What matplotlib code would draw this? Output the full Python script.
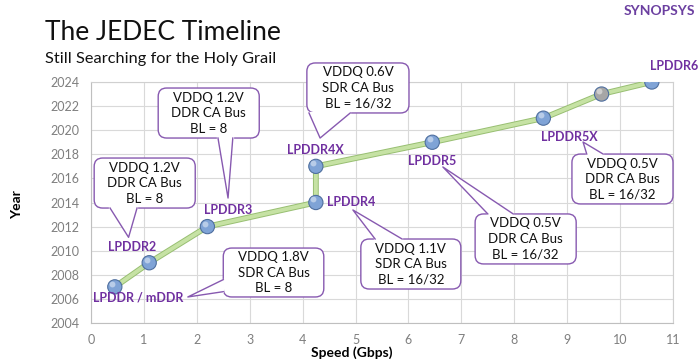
import matplotlib
matplotlib.use("Agg")
import matplotlib.pyplot as plt
from matplotlib.patches import FancyBboxPatch, Polygon

plt.rcParams['font.family'] = ['Lato', 'DejaVu Sans']

# data
names = ["LPDDR / mDDR", "LPDDR2", "LPDDR3", "LPDDR4", "LPDDR4X",
         "LPDDR5", "LPDDR5X", "", "LPDDR6"]
speed = [0.45, 1.1, 2.2, 4.25, 4.25, 6.45, 8.55, 9.65, 10.6]
year = [2007, 2009, 2012, 2014, 2017, 2019, 2021, 2023, 2024]
dot_colors = ["#7fa3d6"] * 7 + ["#a6a6a6", "#7fa3d6"]

xticks = list(range(0, 12))
yticks = list(range(2004, 2025, 2))

callout_text = [
    "VDDQ 1.2V\nDDR CA Bus\nBL = 8",
    "VDDQ 1.2V\nDDR CA Bus\nBL = 8",
    "VDDQ 1.8V\nSDR CA Bus\nBL = 8",
    "VDDQ 0.6V\nSDR CA Bus\nBL = 16/32",
    "VDDQ 1.1V\nSDR CA Bus\nBL = 16/32",
    "VDDQ 0.5V\nDDR CA Bus\nBL = 16/32",
    "VDDQ 0.5V\nDDR CA Bus\nBL = 16/32",
]

# layout of callouts: box (x0, x1, y0, y1), tail base a, b and tip
callout_box = [
    (0.06, 1.97, 2013.54, 2017.69),
    (1.27, 3.18, 2019.35, 2023.50),
    (2.50, 4.40, 2006.16, 2010.22),
    (4.08, 6.01, 2021.43, 2025.58),
    (5.10, 6.99, 2006.82, 2010.97),
    (7.26, 9.17, 2008.90, 2013.05),
    (9.09, 11.0, 2013.88, 2018.02),
]
callout_tail = [
    ((0.36, 2013.54), (0.87, 2013.54), (0.71, 2011.11)),
    ((2.40, 2019.35), (2.68, 2019.35), (2.59, 2014.37)),
    ((2.50, 2007.6), (2.50, 2006.6), (1.83, 2006.16)),
    ((4.12, 2021.43), (4.90, 2021.43), (4.33, 2019.35)),
    ((5.37, 2010.97), (5.88, 2010.97), (4.95, 2013.38)),
    ((7.50, 2013.05), (7.98, 2013.05), (6.65, 2016.95)),
    ((9.37, 2018.02), (9.68, 2018.02), (9.30, 2019.02)),
]

# label offsets (points) relative to each dot
label_off = [(17, -8), (-12, 11), (15, 12), (8, 0), (0, 11.5),
             (0, -13.5), (19, -13.5), (0, 0), (16, 11.5)]
label_ha = ["center", "center", "center", "left", "center",
            "center", "center", "center", "center"]

purple = "#7030a0"
edge_purple = "#8759b0"

fig = plt.figure(figsize=(7, 3.6), dpi=100)
ax_l, ax_b, ax_w, ax_h = 91 / 700, 1 - 323 / 360, 582 / 700, 241 / 360
ax = fig.add_axes([ax_l, ax_b, ax_w, ax_h])
ax.set_xlim(0, 11)
ax.set_ylim(2004, 2024)
ax.set_xticks(xticks)
ax.set_yticks(yticks)
ax.grid(True, color="#d9d9d9", lw=0.8)
ax.set_axisbelow(True)
for s in ax.spines.values():
    s.set_color("#d0d0d0")
ax.spines['left'].set_color("#bfbfbf")
ax.spines['bottom'].set_color("#bfbfbf")
ax.tick_params(length=0, labelsize=9, labelcolor="#7f7f7f", pad=8)

# line and dots
ax.plot(speed, year, color="#98bf72", lw=4.2, zorder=3, solid_capstyle="round")
ax.plot(speed, year, color="#c6e2a4", lw=2.8, zorder=3, solid_capstyle="round")
ax.scatter(speed, year, s=105, c=dot_colors, edgecolors="#4f6f9f",
           linewidths=0.8, zorder=4)
ax.scatter([s - 0.05 for s in speed], [y + 0.25 for y in year], s=18,
           c="white", alpha=0.45, linewidths=0, zorder=5)

for n, x, y, off, ha in zip(names, speed, year, label_off, label_ha):
    if not n:
        continue
    ax.annotate(n, (x, y), xytext=off, textcoords="offset points",
                ha=ha, va="center", fontsize=9, fontweight="bold",
                color=purple, zorder=6, annotation_clip=False)

# aspect for round corners in data coords
asp = (20 / (ax_h * 360)) / (11 / (ax_w * 700))
for txt, (x0, x1, y0, y1), (a, b, tip) in zip(callout_text, callout_box, callout_tail):
    box = FancyBboxPatch((x0, y0), x1 - x0, y1 - y0,
                         boxstyle="round,pad=0,rounding_size=0.16",
                         mutation_aspect=asp, fc="white", ec=edge_purple,
                         lw=1.0, zorder=7, clip_on=False)
    ax.add_patch(box)
    ax.add_patch(Polygon([a, tip, b], closed=True, fc="white", ec="none",
                         zorder=8, clip_on=False))
    ax.plot([a[0], b[0]], [a[1], b[1]], color="white", lw=1.6, zorder=8,
            clip_on=False)
    ax.plot([a[0], tip[0], b[0]], [a[1], tip[1], b[1]], color=edge_purple,
            lw=1.0, zorder=9, clip_on=False)
    ax.text((x0 + x1) / 2, (y0 + y1) / 2, txt, ha="center", va="center",
            fontsize=9.5, linespacing=1.35, color="#111111", zorder=10)

fig.text(45 / 700, 1 - 40 / 360, "The JEDEC Timeline", fontsize=19,
         ha="left", va="baseline", color="#111111")
fig.text(45 / 700, 1 - 63 / 360, "Still Searching for the Holy Grail",
         fontsize=11.8, ha="left", va="baseline", color="#111111")
fig.text(695 / 700, 1 - 11 / 360, "SYNOPSYS", fontsize=10, fontweight="bold",
         ha="right", va="center", color="#6b3fa0")
fig.text(17 / 700, 1 - 205 / 360, "Year", rotation=90, fontsize=10,
         fontweight="bold", ha="center", va="center")
fig.text(352 / 700, 1 - 353 / 360, "Speed (Gbps)", fontsize=10,
         fontweight="bold", ha="center", va="center")

fig.savefig("out.png", dpi=100)
